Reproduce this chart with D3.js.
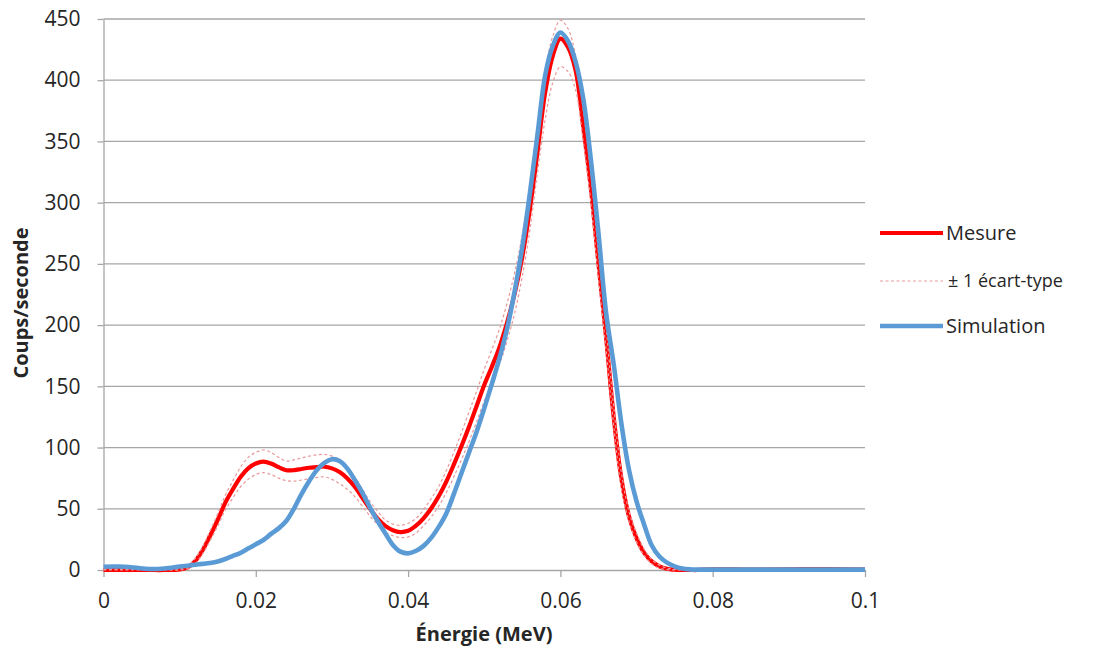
<!DOCTYPE html>
<html><head><meta charset="utf-8">
<script src="https://cdn.jsdelivr.net/npm/d3@7"></script>
<style>body{margin:0;background:#fff}svg{display:block}text{font-family:"Open Sans",sans-serif}</style>
</head><body><svg id="c" width="1095" height="646"></svg>
<script>
const energy = [0,0.002,0.004,0.006,0.008,0.010,
0.011,0.012,0.013,0.014,0.015,0.016,0.017,0.018,0.019,0.020,
0.021,0.022,0.023,0.024,0.025,0.026,0.027,0.028,0.029,0.030,
0.031,0.032,0.033,0.034,0.035,0.036,0.037,0.038,0.039,0.040,
0.041,0.042,0.043,0.044,0.045,0.046,0.047,0.048,0.049,0.050,
0.051,0.052,0.053,0.054,0.055,0.056,0.057,0.058,0.059,0.060,
0.061,0.062,0.063,0.064,0.065,0.066,0.067,0.068,0.069,0.070,
0.071,0.072,0.073,0.074,0.075,0.076,0.077,
0.078,0.080,0.085,0.090,0.095,0.100];
const mesure = [0,0,0,0,0,0.5,
2,7,16,28,41,55,66,76,83,87,
88.5,87,84,81.5,81.5,82.5,83.5,84,84.5,83,
80,75,68,59,50,42,36,32.5,31,32,
36,42,50,60,72,86,101,117,134,151,
166,182,202,226,256,295,342,390,420,434,
427,408,362,312,250,190,125,75,44,26,
14,7,3,1,0.3,0,0,
0,0.6,0.3,0.5,0.8,0.3];
const ecartHaut = [0.5,0.5,0.5,0.5,0.5,1,
3,9,19,32,46,61,73,84,92,96,
98,96,92,89,90,91.5,93,94,94.5,93,
90,84,76,66,56,48,41,37.5,36.5,38,
42,49,58,68,81,96,112,129,146,164,
180,197,218,243,274,314,361,407,436,449,
442,420,376,324,258,198,133,80,48,30,
17,8.5,4,1.5,0.5,0.3,0.3,
0.3,1,0.6,0.8,1.2,0.6];
const ecartBas = [0,0,0,0,0,0,
1,5,13,24,36,49,59,68,74,78,
79.5,78,75,73,72.5,73.5,74.5,75.5,76,74,
70.5,66,60,52,44,37,31,28,26.5,27,
30,36,43,52,63,76,90,105,121,138,
153,168,187,210,240,278,325,368,398,411,
407,392,350,300,238,180,118,67,40,23,
12,5,1.5,0.3,0,0,0,
0,0.2,0,0.2,0.4,0];
const simulation = [2.7,2.8,2,0.8,1.2,2.8,
3.5,4.3,5,5.8,7,9,11.5,14,17.5,21,
24.5,29.5,34,40,50,62,72.5,81.5,87.5,90.5,
89,83,73.5,63,51,40,30,20.5,15,13.6,
15.5,19.5,26,35,46,62,79,96,113,132,
152,173,197,228,264,308,356,404,428,439,
432,415,385,335,275,210,168,120,82,56,
37,20,11,6,3,1.2,0.5,
0.3,0.3,0.3,0.3,0.3,0.3];
const xTicks = [0,0.02,0.04,0.06,0.08,0.1];
const xTickLabels = ["0","0.02","0.04","0.06","0.08","0.1"];
const yTicks = [0,50,100,150,200,250,300,350,400,450];
const legendLabels = ["Mesure","± 1 écart-type","Simulation"];

const svg = d3.select("#c");
const x = d3.scaleLinear().domain([0,0.1]).range([103.5,865]);
const y = d3.scaleLinear().domain([0,450]).range([570,19]);
const grid = "#a6a6a6";

svg.append("g").selectAll("line").data(yTicks.filter(d=>d>0)).join("line")
  .attr("x1",x(0)).attr("x2",x(0.1)).attr("y1",d=>y(d)).attr("y2",d=>y(d))
  .attr("stroke",grid).attr("stroke-width",1.3);

const yAxis = svg.append("g").attr("transform",`translate(${x(0)},0)`)
  .call(d3.axisLeft(y).tickValues(yTicks).tickSize(6).tickPadding(17).tickSizeOuter(0));
const xAxis = svg.append("g").attr("transform",`translate(0,${y(0)})`)
  .call(d3.axisBottom(x).tickValues(xTicks).tickFormat((d,i)=>xTickLabels[i]).tickSize(7).tickPadding(16).tickSizeOuter(0));
[yAxis,xAxis].forEach(a=>{
  a.selectAll(".domain").attr("stroke",grid).attr("stroke-width",1.3);
  a.selectAll(".tick line").attr("stroke",grid).attr("stroke-width",1.3);
  a.selectAll("text").attr("font-size",21).attr("fill","#262626").attr("font-family","'Open Sans',sans-serif");
});

const line = arr => d3.line().x((d,i)=>x(energy[i])).y(d=>y(d)).curve(d3.curveCatmullRom.alpha(0.5))(arr);

svg.append("path").attr("d",line(mesure)).attr("fill","none").attr("stroke","#ff0000").attr("stroke-width",4.2).attr("stroke-linejoin","round");
[ecartHaut,ecartBas].forEach(s=>svg.append("path").attr("d",line(s)).attr("fill","none")
  .attr("stroke","#e8999b").attr("stroke-width",1.2).attr("stroke-dasharray","3,2.5"));
svg.append("path").attr("d",line(simulation)).attr("fill","none").attr("stroke","#5b9bd5").attr("stroke-width",4.6).attr("stroke-linejoin","round");

svg.append("text").attr("x",484).attr("y",641).attr("text-anchor","middle").attr("font-weight","bold").attr("font-size",20).attr("fill","#262626").text("Énergie (MeV)");
svg.append("text").attr("transform","translate(28,303) rotate(-90)").attr("text-anchor","middle").attr("font-weight","bold").attr("font-size",20).attr("fill","#262626").text("Coups/seconde");

const leg = svg.append("g");
const ly = [233,281,326];
leg.append("line").attr("x1",880).attr("x2",943).attr("y1",ly[0]).attr("y2",ly[0]).attr("stroke","#ff0000").attr("stroke-width",4.2);
leg.append("line").attr("x1",880).attr("x2",943).attr("y1",ly[1]).attr("y2",ly[1]).attr("stroke","#e8999b").attr("stroke-width",1.2).attr("stroke-dasharray","3,2.5");
leg.append("line").attr("x1",880).attr("x2",943).attr("y1",ly[2]).attr("y2",ly[2]).attr("stroke","#5b9bd5").attr("stroke-width",4.6);
leg.selectAll("text").data(legendLabels).join("text")
  .attr("x",(d,i)=>i===1?948:946).attr("y",(d,i)=>ly[i]).attr("dy","0.35em")
  .attr("font-size",(d,i)=>i===1?18:20).attr("fill","#262626").text(d=>d);
</script></body></html>
